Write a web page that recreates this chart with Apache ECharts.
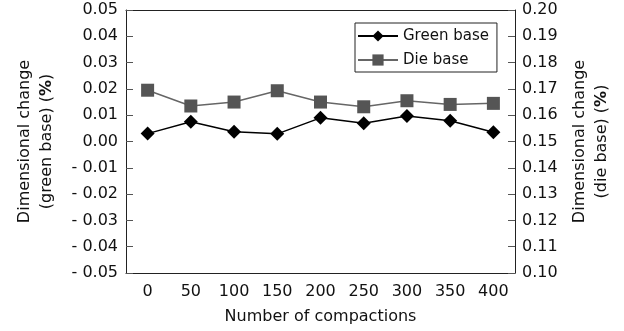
<!DOCTYPE html>
<html>
<head>
<meta charset="utf-8">
<script src="https://cdn.jsdelivr.net/npm/echarts@6/dist/echarts.min.js"></script>
<style>html,body{margin:0;padding:0;background:#fff}#c{width:624px;height:331px}</style>
</head>
<body>
<div id="c"></div>
<script>
var categories = ['0', '50', '100', '150', '200', '250', '300', '350', '400'];
var greenBase = [0.0030, 0.0075, 0.0037, 0.0029, 0.0090, 0.0069, 0.0097, 0.0079, 0.0035];
var dieBase = [0.1695, 0.1635, 0.1650, 0.1693, 0.1650, 0.1632, 0.1655, 0.1641, 0.1645];
var leftTickLabels = ['- 0.05', '- 0.04', '- 0.03', '- 0.02', '- 0.01', '0.00', '0.01', '0.02', '0.03', '0.04', '0.05'];
var rightTickLabels = ['0.10', '0.11', '0.12', '0.13', '0.14', '0.15', '0.16', '0.17', '0.18', '0.19', '0.20'];

var FONT = 'DejaVu Sans';
var chart = echarts.init(document.getElementById('c'), null, {renderer: 'canvas'});
var axisLineStyle = {color: '#222', width: 1};
var tickStyle = {color: '#555', width: 1};

chart.setOption({
  animation: false,
  backgroundColor: '#fff',
  grid: {left: 126, right: 109, top: 10, bottom: 58, containLabel: false},
  legend: {
    orient: 'vertical',
    left: 355, top: 23,
    padding: [5, 8, 4, 2],
    itemGap: 8,
    itemWidth: 40, itemHeight: 14,
    borderColor: '#222', borderWidth: 1,
    backgroundColor: '#fff',
    textStyle: {fontFamily: FONT, fontSize: 15, color: '#111', lineHeight: 16},
    data: ['Green base', 'Die base']
  },
  xAxis: [{
    type: 'category', data: categories, position: 'bottom', boundaryGap: true,
    axisLine: {onZero: false, lineStyle: axisLineStyle},
    axisTick: {inside: true, length: 7, lineStyle: tickStyle},
    axisLabel: {fontFamily: FONT, fontSize: 16, color: '#111', margin: 11},
    name: 'Number of compactions', nameLocation: 'middle', nameGap: 36,
    nameTextStyle: {fontFamily: FONT, fontSize: 16, color: '#111'},
    splitLine: {show: false}
  }, {
    type: 'category', data: categories, position: 'top', boundaryGap: true,
    axisLine: {onZero: false, lineStyle: axisLineStyle},
    axisTick: {inside: true, length: 7, lineStyle: tickStyle},
    axisLabel: {show: false},
    splitLine: {show: false}
  }],
  yAxis: [{
    type: 'value', position: 'left', min: -0.05, max: 0.05, interval: 0.01,
    axisLine: {show: true, onZero: false, lineStyle: axisLineStyle},
    axisTick: {show: true, inside: true, length: 7, lineStyle: tickStyle},
    axisLabel: {fontFamily: FONT, fontSize: 16, color: '#111', margin: 8,
      formatter: function (v) { return leftTickLabels[Math.round((v + 0.05) / 0.01)]; }},
    splitLine: {show: false},
    name: 'Dimensional change\n(green base) ({b|%})', nameLocation: 'middle', nameGap: 68,
    nameTextStyle: {fontFamily: FONT, fontSize: 16, color: '#111', lineHeight: 22,
      rich: {b: {fontFamily: FONT, fontSize: 16, fontWeight: 'bold', color: '#111', lineHeight: 22}}}
  }, {
    type: 'value', position: 'right', min: 0.10, max: 0.20, interval: 0.01,
    axisLine: {show: true, onZero: false, lineStyle: axisLineStyle},
    axisTick: {show: true, inside: true, length: 7, lineStyle: tickStyle},
    axisLabel: {fontFamily: FONT, fontSize: 16, color: '#111', margin: 7,
      formatter: function (v) { return rightTickLabels[Math.round((v - 0.10) / 0.01)]; }},
    splitLine: {show: false},
    name: 'Dimensional change\n(die base) ({b|%})', nameLocation: 'middle', nameGap: 52,
    nameTextStyle: {fontFamily: FONT, fontSize: 16, color: '#111', lineHeight: 22,
      rich: {b: {fontFamily: FONT, fontSize: 16, fontWeight: 'bold', color: '#111', lineHeight: 22}}}
  }],
  series: [{
    name: 'Green base', type: 'line', xAxisIndex: 0, yAxisIndex: 0,
    data: greenBase,
    symbol: 'diamond', symbolSize: 14,
    lineStyle: {color: '#000', width: 1.5},
    itemStyle: {color: '#000'}
  }, {
    name: 'Die base', type: 'line', xAxisIndex: 0, yAxisIndex: 1,
    data: dieBase,
    symbol: 'rect', symbolSize: 13,
    lineStyle: {color: '#666', width: 1.5},
    itemStyle: {color: '#555'}
  }]
});
</script>
</body>
</html>
